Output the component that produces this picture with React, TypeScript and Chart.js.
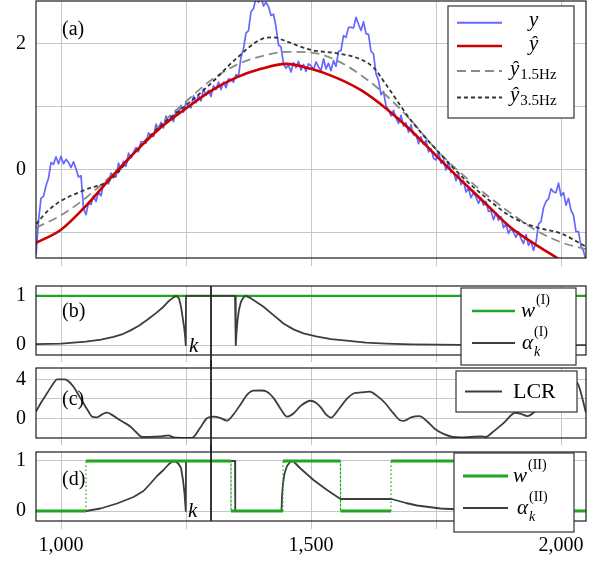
import React, { useEffect, useRef } from "react";
import { Chart, registerables } from "chart.js";

Chart.register(...registerables);

// ---------------- data ----------------
const X_MIN = 950;
const X_MAX = 2050;
const X_GRID = [1000, 1250, 1500, 1750, 2000];
const X_LABELED = [1000, 1500, 2000];
const K_POS = 1300;
const K_LABEL_AT = 1250;

// measured signal y, sampled every 5 samples starting at 950
const Y_START = 950;
const Y_STEP = 5;
const Y_SIGNAL = [
  -1.36, -0.82, -0.46, -0.43, -0.26, -0.14, 0.11, 0.08, 0.2, 0.09, 0.21, 0.09, 0.16, 0.11, 0.03, 0.12, 0.01, -0.12, -0.1, -0.62,
  -0.72, -0.53, -0.56, -0.42, -0.51, -0.36, -0.42, -0.23, -0.21, -0.23, -0.06, -0.1, -0.12, 0.1, 0.0, 0.13, 0.05, 0.26, 0.18, 0.27,
  0.35, 0.28, 0.44, 0.44, 0.42, 0.58, 0.54, 0.52, 0.72, 0.62, 0.75, 0.66, 0.85, 0.76, 0.84, 0.76, 0.94, 0.89, 1.02, 0.91,
  1.06, 1.01, 0.98, 1.17, 1.06, 1.18, 1.09, 1.28, 1.18, 1.26, 1.16, 1.33, 1.27, 1.39, 1.27, 1.39, 1.3, 1.44, 1.43, 1.39,
  1.51, 1.48, 1.79, 1.92, 2.17, 2.21, 2.51, 2.56, 2.73, 2.66, 2.75, 2.6, 2.66, 2.59, 2.45, 2.47, 2.27, 1.98, 1.95, 1.68,
  1.61, 1.66, 1.55, 1.7, 1.62, 1.72, 1.58, 1.67, 1.56, 1.68, 1.65, 1.59, 1.71, 1.63, 1.57, 1.76, 1.6, 1.69, 1.57, 1.73,
  1.64, 1.88, 1.89, 2.13, 2.1, 2.26, 2.26, 2.25, 2.42, 2.31, 2.21, 2.35, 2.16, 2.15, 1.88, 1.84, 1.52, 1.42, 1.19, 1.24,
  1.01, 0.95, 0.85, 0.94, 0.82, 0.73, 0.86, 0.69, 0.74, 0.59, 0.71, 0.55, 0.56, 0.41, 0.52, 0.4, 0.46, 0.28, 0.33, 0.18,
  0.15, 0.28, 0.1, 0.15, -0.01, 0.12, -0.05, -0.04, -0.18, -0.07, -0.24, -0.18, -0.36, -0.3, -0.45, -0.37, -0.44, -0.54, -0.45, -0.57,
  -0.51, -0.67, -0.66, -0.8, -0.69, -0.81, -0.75, -0.93, -0.87, -1.02, -0.94, -1.0, -1.08, -0.99, -1.1, -1.18, -1.04, -1.21, -1.14, -1.29,
  -1.16, -0.87, -0.83, -0.61, -0.51, -0.47, -0.31, -0.36, -0.37, -0.22, -0.42, -0.37, -0.57, -0.46, -0.65, -0.73, -0.99, -0.99, -1.22, -1.3, -1.45,
];

const FIT_X = [950, 1000, 1050, 1100, 1150, 1200, 1250, 1300, 1350, 1400, 1450, 1500, 1550, 1600, 1650, 1700, 1750, 1800, 1850, 1900, 1950, 2000, 2050];
const Y_HAT = [-1.17, -0.96, -0.58, -0.13, 0.29, 0.67, 0.97, 1.25, 1.46, 1.6, 1.68, 1.6, 1.46, 1.26, 0.97, 0.62, 0.22, -0.17, -0.55, -0.93, -1.2, -1.45, -1.72];
const Y_HAT_15 = [-0.93, -0.73, -0.45, -0.1, 0.3, 0.72, 1.08, 1.42, 1.66, 1.8, 1.87, 1.86, 1.74, 1.5, 1.18, 0.78, 0.32, -0.06, -0.4, -0.7, -0.97, -1.16, -1.27];
const DARK_X = [950, 975, 1000, 1050, 1100, 1150, 1200, 1250, 1300, 1350, 1400, 1425, 1450, 1500, 1550, 1600, 1625, 1650, 1700, 1750, 1800, 1850, 1900, 1950, 2000, 2050];
const Y_HAT_35 = [-0.87, -0.65, -0.5, -0.32, -0.16, 0.3, 0.7, 1.02, 1.37, 1.76, 2.07, 2.1, 2.04, 1.9, 1.85, 1.75, 1.62, 1.35, 0.78, 0.32, -0.1, -0.45, -0.75, -0.92, -1.02, -1.23];

const W1_X = [950, 2050];
const W1_Y = [1, 1];
const ALPHA1_X = [950, 1000, 1050, 1080, 1105, 1125, 1139, 1155, 1172, 1190, 1205, 1215, 1225, 1231, 1236, 1240, 1243, 1246, 1248, 1249.5, 1250, 1348, 1349.5, 1351, 1353, 1356, 1360, 1365, 1370, 1378, 1390, 1405, 1425, 1445, 1465, 1485, 1510, 1540, 1571, 1610, 1650, 1700, 1800, 2050];
const ALPHA1_Y = [0.02, 0.03, 0.07, 0.11, 0.17, 0.23, 0.3, 0.39, 0.51, 0.65, 0.78, 0.89, 0.97, 1.0, 0.95, 0.78, 0.58, 0.38, 0.2, 0, 1, 1, 0, 0.25, 0.5, 0.72, 0.88, 0.97, 1.0, 0.96, 0.88, 0.78, 0.61, 0.44, 0.32, 0.24, 0.18, 0.12, 0.09, 0.05, 0.03, 0.015, 0.005, 0];

const LCR_X = [950, 960, 972, 985, 992, 1008, 1015, 1025, 1035, 1045, 1055, 1062, 1072, 1082, 1092, 1102, 1112, 1125, 1139, 1150, 1162, 1175, 1200, 1215, 1225, 1250, 1262, 1278, 1292, 1305, 1318, 1332, 1345, 1360, 1372, 1385, 1400, 1412, 1425, 1440, 1452, 1465, 1480, 1499, 1510, 1520, 1530, 1540, 1555, 1570, 1586, 1600, 1617, 1632, 1648, 1665, 1678, 1686, 1700, 1717, 1732, 1748, 1765, 1783, 1800, 1820, 1840, 1850, 1863, 1885, 1909, 1920, 1933, 1952, 1975, 2000, 2020, 2033, 2050];
const LCR_Y = [0.68, 1.6, 2.56, 3.6, 4.0, 4.0, 3.8, 3.24, 2.4, 1.54, 0.7, 0.17, 0.1, 0.4, 0.58, 0.35, 0.0, -0.4, -0.86, -1.4, -1.9, -1.9, -1.85, -1.75, -1.95, -2.0, -2.0, -1.0, 0.0, 0.17, 0.05, -0.24, 0.4, 1.5, 2.4, 2.83, 2.85, 2.73, 2.1, 0.9, 0.17, 0.5, 1.3, 1.8, 1.6, 1.1, 0.4, 0.07, 0.9, 1.9, 2.57, 2.65, 2.73, 2.3, 1.57, 0.5, -0.2, -0.27, 0.1, 0.23, -0.3, -1.1, -1.6, -1.9, -1.95, -1.9, -1.85, -1.9, -1.43, -0.5, 0.57, 0.45, 0.23, 0.9, 2.0, 3.2, 3.9, 3.6, 0.57];

const W2_X = [950, 1050, 1050, 1340, 1340, 1444, 1444, 1559, 1559, 1660, 1660, 1830, 1830, 2050];
const W2_Y = [0, 0, 1, 1, 0, 0, 1, 1, 0, 0, 1, 1, 0, 0];
const ALPHA2_X = [950, 1050, 1079, 1112, 1145, 1165, 1179, 1192, 1205, 1215, 1222, 1230, 1236, 1240, 1244, 1247, 1249.5, 1250, 1348, 1348.5, 1441, 1442, 1444, 1447, 1452, 1458, 1464, 1479, 1505, 1532, 1559, 1661, 1690, 1712, 1759, 1800, 1900, 2050];
const ALPHA2_Y = [0, 0, 0.05, 0.15, 0.28, 0.4, 0.55, 0.7, 0.82, 0.93, 0.99, 0.99, 0.93, 0.86, 0.62, 0.35, 0, 1, 1, 0, 0, 0.3, 0.55, 0.75, 0.9, 0.98, 1.0, 0.85, 0.62, 0.42, 0.24, 0.24, 0.16, 0.11, 0.05, 0.03, 0.01, 0];

const A_Y_GRID = [-1, 0, 1, 2];
const A_Y_LABELS = [0, 2];
const B_Y_GRID = [0, 1];
const B_Y_LABELS = [0, 1];
const C_Y_GRID = [0, 2, 4];
const C_Y_LABELS = [0, 4];
const D_Y_GRID = [0, 1];
const D_Y_LABELS = [0, 1];

const PANEL_LABELS = ["(a)", "(b)", "(c)", "(d)"];
const K_TEXT = "k";
const LEG_A_MAIN = ["y", "\u0177", "\u0177", "\u0177"];
const LEG_A_SUB = ["", "", "1.5Hz", "3.5Hz"];
const LEG_B = ["w", "\u03B1", "(I)"];
const LEG_C = "LCR";
const LEG_D = ["w", "\u03B1", "(II)"];

// ---------------- styles ----------------
const SERIF = '"Liberation Serif", "Times New Roman", serif';
const GRID = "#c6c6c6";
const FRAME = "#1c1c1c";
const BLUE = "#6767ff";
const RED = "#cc0000";
const GRAY = "#8a8a8a";
const DARK = "#333333";
const ALPHA_C = "#3d3d3d";
const GREEN = "#1fa51f";

const fnt = (size: number, italic = false) => `${italic ? "italic " : ""}${size}px ${SERIF}`;
const xy = (xs: number[], ys: number[]) => xs.map((x, i) => ({ x, y: ys[i] }));

function txt(ctx: CanvasRenderingContext2D, s: string, x: number, y: number, font: string) {
  ctx.font = font;
  ctx.textAlign = "left";
  ctx.fillStyle = "#000";
  ctx.fillText(s, x, y);
  return ctx.measureText(s).width;
}
function box(ctx: CanvasRenderingContext2D, x0: number, y0: number, x1: number, y1: number) {
  ctx.setLineDash([]);
  ctx.fillStyle = "#fff";
  ctx.fillRect(x0, y0, x1 - x0, y1 - y0);
  ctx.strokeStyle = "#333";
  ctx.lineWidth = 1.2;
  ctx.strokeRect(x0, y0, x1 - x0, y1 - y0);
}
function sample(ctx: CanvasRenderingContext2D, x0: number, x1: number, y: number, color: string, w: number, dash: number[] = []) {
  ctx.beginPath();
  ctx.setLineDash(dash);
  ctx.strokeStyle = color;
  ctx.lineWidth = w;
  ctx.moveTo(x0, y);
  ctx.lineTo(x1, y);
  ctx.stroke();
  ctx.setLineDash([]);
}

type Cfg = {
  name: string;
  top: number;
  height: number;
  padTop: number;
  xAxisH: number;
  tickLen: number;
  yMin: number;
  yMax: number;
  yGrid: number[];
  yLabels: number[];
  showX: boolean;
  kLine: null | [string, string];
  datasets: any[];
  decorate: (ctx: CanvasRenderingContext2D, chart: any) => void;
};

function build(canvas: HTMLCanvasElement, cfg: Cfg) {
  const plugin = {
    id: "overlay" + cfg.name,
    afterDraw(chart: any) {
      const { ctx, chartArea: ca } = chart;
      ctx.save();
      ctx.setLineDash([]);
      ctx.strokeStyle = FRAME;
      ctx.lineWidth = 1.2;
      ctx.strokeRect(ca.left, ca.top, ca.right - ca.left, ca.bottom - ca.top);
      if (cfg.kLine) {
        const x = chart.scales.x.getPixelForValue(K_POS);
        const y0 = cfg.kLine[0] === "chart" ? ca.top : 0;
        const y1 = cfg.kLine[1] === "chart" ? ca.bottom : chart.height;
        ctx.strokeStyle = "#222";
        ctx.lineWidth = 1.8;
        ctx.beginPath();
        ctx.moveTo(x, y0);
        ctx.lineTo(x, y1);
        ctx.stroke();
      }
      ctx.translate(0, -cfg.top);
      ctx.textBaseline = "middle";
      cfg.decorate(ctx, chart);
      ctx.restore();
    },
  };
  return new Chart(canvas, {
    type: "line",
    data: { datasets: cfg.datasets },
    options: {
      animation: false,
      responsive: false,
      maintainAspectRatio: false,
      devicePixelRatio: 1,
      events: [],
      layout: { padding: { top: cfg.padTop, right: 14, bottom: 0, left: 0 } },
      plugins: { legend: { display: false }, tooltip: { enabled: false }, title: { display: false } },
      elements: { point: { radius: 0 }, line: { borderCapStyle: "butt", borderJoinStyle: "round" } },
      scales: {
        x: {
          type: "linear",
          min: X_MIN,
          max: X_MAX,
          afterBuildTicks: (s: any) => {
            s.ticks = X_GRID.map((v) => ({ value: v }));
          },
          afterFit: (s: any) => {
            s.height = cfg.xAxisH;
            s.paddingLeft = 0;
            s.paddingRight = 0;
          },
          grid: { color: GRID, lineWidth: 1, drawTicks: true, tickLength: cfg.tickLen, tickColor: GRID },
          border: { display: false },
          ticks: {
            display: cfg.showX,
            autoSkip: false,
            maxRotation: 0,
            padding: 5,
            color: "#000",
            font: { family: SERIF, size: 20 },
            callback: (v: any) => (X_LABELED.includes(Number(v)) ? Number(v).toLocaleString("en-US") : ""),
          },
        },
        y: {
          type: "linear",
          min: cfg.yMin,
          max: cfg.yMax,
          afterBuildTicks: (s: any) => {
            s.ticks = cfg.yGrid.map((v) => ({ value: v }));
          },
          afterFit: (s: any) => {
            s.width = 36;
            s.paddingTop = 0;
            s.paddingBottom = 0;
          },
          grid: { color: GRID, lineWidth: 1, drawTicks: false },
          border: { display: false },
          ticks: {
            autoSkip: false,
            padding: 10,
            color: "#000",
            font: { family: SERIF, size: 20 },
            callback: (v: any) => (cfg.yLabels.includes(Number(v)) ? String(v) : ""),
          },
        },
      },
    } as any,
    plugins: [plugin],
  });
}

const PANELS: Cfg[] = [
  {
    name: "a",
    top: 0,
    height: 270,
    padTop: 1,
    xAxisH: 12,
    tickLen: 8,
    yMin: -1.41,
    yMax: 2.68,
    yGrid: A_Y_GRID,
    yLabels: A_Y_LABELS,
    showX: false,
    kLine: null,
    datasets: [
      { data: xy(Y_SIGNAL.map((_, i) => Y_START + i * Y_STEP), Y_SIGNAL), borderColor: BLUE, borderWidth: 1.7, tension: 0, order: 4 },
      { data: xy(FIT_X, Y_HAT_15), borderColor: GRAY, borderWidth: 1.8, borderDash: [9, 5], cubicInterpolationMode: "monotone", order: 3 },
      { data: xy(DARK_X, Y_HAT_35), borderColor: DARK, borderWidth: 1.8, borderDash: [4, 3], cubicInterpolationMode: "monotone", order: 2 },
      { data: xy(FIT_X, Y_HAT), borderColor: RED, borderWidth: 2.6, cubicInterpolationMode: "monotone", order: 1 },
    ],
    decorate: (ctx) => {
      txt(ctx, PANEL_LABELS[0], 62, 30, fnt(20));
      box(ctx, 448, 6, 574, 118);
      const rows = [22.7, 46, 71, 97.5];
      sample(ctx, 457, 502, rows[0], BLUE, 2);
      sample(ctx, 457, 502, rows[1], RED, 2.6);
      sample(ctx, 457, 502, rows[2], GRAY, 1.8, [9, 5]);
      sample(ctx, 457, 502, rows[3], DARK, 1.8, [4, 3]);
      txt(ctx, LEG_A_MAIN[0], 529, rows[0] - 2, fnt(21, true));
      txt(ctx, LEG_A_MAIN[1], 529, rows[1] - 2, fnt(21, true));
      for (let r = 2; r < 4; r++) {
        const w = txt(ctx, LEG_A_MAIN[r], 510, rows[r] - 2, fnt(21, true));
        txt(ctx, LEG_A_SUB[r], 510 + w + 1, rows[r] + 4, fnt(15));
      }
    },
  },
  {
    name: "b",
    top: 270,
    height: 100,
    padTop: 16,
    xAxisH: 15,
    tickLen: 7,
    yMin: -0.2,
    yMax: 1.2,
    yGrid: B_Y_GRID,
    yLabels: B_Y_LABELS,
    showX: false,
    kLine: ["chart", "canvas"],
    datasets: [
      { data: xy(W1_X, W1_Y), borderColor: GREEN, borderWidth: 2.4, tension: 0, order: 2 },
      { data: xy(ALPHA1_X, ALPHA1_Y), borderColor: ALPHA_C, borderWidth: 1.8, tension: 0, order: 1 },
    ],
    decorate: (ctx, chart) => {
      txt(ctx, PANEL_LABELS[1], 62, 312, fnt(20));
      txt(ctx, K_TEXT, chart.scales.x.getPixelForValue(K_LABEL_AT) + 3, 346, fnt(21, true));
      box(ctx, 461, 288, 576, 365);
      sample(ctx, 472, 515, 311, GREEN, 2.4);
      sample(ctx, 472, 515, 343, ALPHA_C, 2);
      const ww = txt(ctx, LEG_B[0], 521, 311, fnt(21, true));
      txt(ctx, LEG_B[2], 521 + ww + 1, 300, fnt(14));
      const wa = txt(ctx, LEG_B[1], 522, 343, fnt(21, true));
      txt(ctx, LEG_B[2], 522 + wa + 1, 332, fnt(14));
      txt(ctx, K_TEXT, 522 + wa + 1, 352, fnt(14, true));
    },
  },
  {
    name: "c",
    top: 360,
    height: 92,
    padTop: 8,
    xAxisH: 14,
    tickLen: 7,
    yMin: -2.02,
    yMax: 5.16,
    yGrid: C_Y_GRID,
    yLabels: C_Y_LABELS,
    showX: false,
    kLine: ["canvas", "canvas"],
    datasets: [{ data: xy(LCR_X, LCR_Y), borderColor: ALPHA_C, borderWidth: 1.8, cubicInterpolationMode: "monotone", order: 1 }],
    decorate: (ctx) => {
      txt(ctx, PANEL_LABELS[2], 62, 400, fnt(20));
      box(ctx, 456, 371, 577, 412);
      sample(ctx, 465, 502, 391.5, ALPHA_C, 2);
      txt(ctx, LEG_C, 513, 392, fnt(22));
    },
  },
  {
    name: "d",
    top: 445,
    height: 116,
    padTop: 7,
    xAxisH: 40,
    tickLen: 8,
    yMin: -0.2,
    yMax: 1.18,
    yGrid: D_Y_GRID,
    yLabels: D_Y_LABELS,
    showX: true,
    kLine: ["canvas", "chart"],
    datasets: [
      {
        data: xy(W2_X, W2_Y),
        borderColor: GREEN,
        borderWidth: 3,
        tension: 0,
        order: 1,
        segment: {
          borderDash: (c: any) => (c.p0.parsed.x === c.p1.parsed.x ? [1.5, 2.5] : undefined),
          borderWidth: (c: any) => (c.p0.parsed.x === c.p1.parsed.x ? 1.2 : undefined),
        },
      },
      { data: xy(ALPHA2_X, ALPHA2_Y), borderColor: ALPHA_C, borderWidth: 1.8, tension: 0, order: 2 },
    ],
    decorate: (ctx, chart) => {
      txt(ctx, PANEL_LABELS[3], 62, 480, fnt(20));
      txt(ctx, K_TEXT, chart.scales.x.getPixelForValue(K_LABEL_AT) + 2, 511, fnt(21, true));
      box(ctx, 454, 453, 574, 532);
      sample(ctx, 463, 508, 476, GREEN, 3);
      sample(ctx, 463, 508, 508, ALPHA_C, 2);
      const ww = txt(ctx, LEG_D[0], 513, 476, fnt(21, true));
      txt(ctx, LEG_D[2], 513 + ww + 1, 465, fnt(14));
      const wa = txt(ctx, LEG_D[1], 517, 508, fnt(21, true));
      txt(ctx, LEG_D[2], 517 + wa + 1, 497, fnt(14));
      txt(ctx, K_TEXT, 517 + wa + 1, 517, fnt(14, true));
    },
  },
];

// DOM stacking order: a, c, d, b (b's legend overflows onto c)
const STACK = [0, 2, 3, 1];

export default function App() {
  const refs = useRef<(HTMLCanvasElement | null)[]>([]);
  useEffect(() => {
    const charts = PANELS.map((cfg, i) => build(refs.current[i] as HTMLCanvasElement, cfg));
    return () => charts.forEach((c) => c.destroy());
  }, []);
  return (
    <div style={{ position: "absolute", left: 0, top: 0, width: 600, height: 561, background: "#fff", overflow: "hidden" }}>
      {STACK.map((i) => {
        const p = PANELS[i];
        return (
          <canvas
            key={p.name}
            ref={(el) => {
              refs.current[i] = el;
            }}
            width={600}
            height={p.height}
            style={{ position: "absolute", left: 0, top: p.top, width: 600, height: p.height, display: "block" }}
          />
        );
      })}
    </div>
  );
}
